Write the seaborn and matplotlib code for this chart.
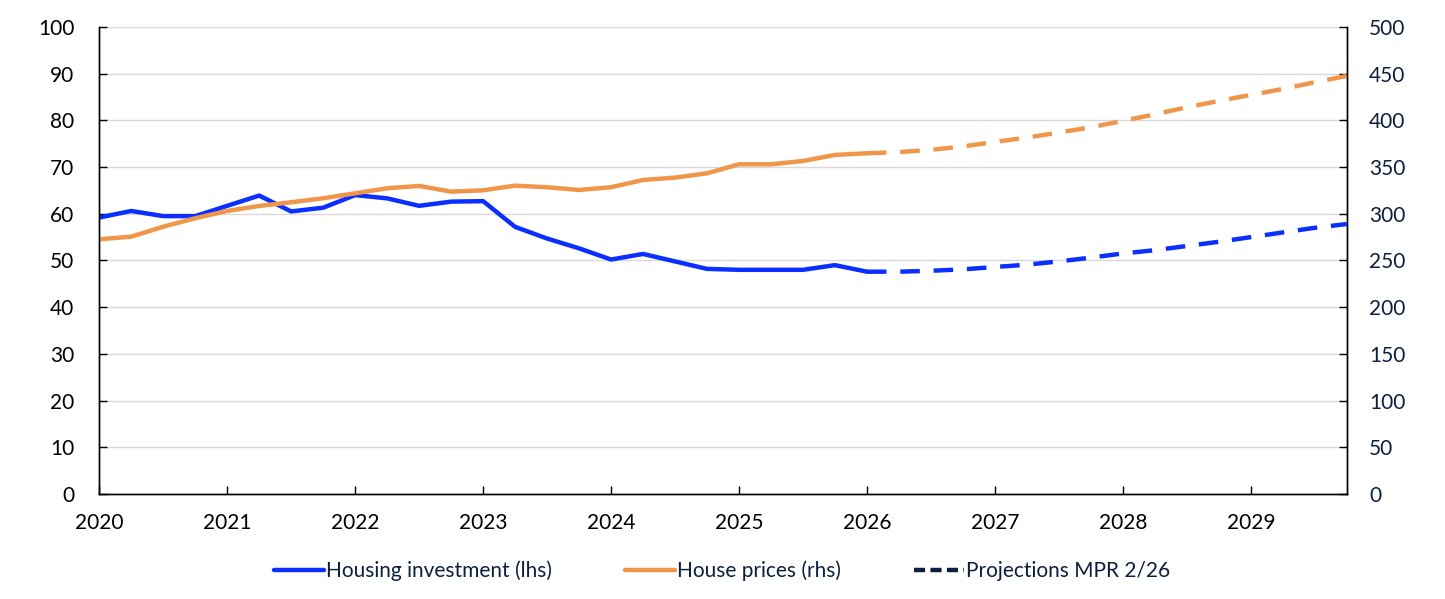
import numpy as np
import pandas as pd
import matplotlib
matplotlib.use("Agg")
import matplotlib.pyplot as plt
from matplotlib.lines import Line2D
import seaborn as sns

# Data (quarterly)
years = [2020, 2021, 2022, 2023, 2024, 2025, 2026, 2027, 2028, 2029]

inv_actual = [59.2, 60.6, 59.5, 59.5, 61.7, 63.9, 60.5, 61.3, 64.0, 63.3,
              61.7, 62.6, 62.7, 57.2, 54.7, 52.6, 50.2, 51.4, 49.8, 48.2,
              48.0, 48.0, 48.0, 49.0, 47.6]
price_actual = [272.7, 275.5, 286.2, 295.2, 303.0, 308.4, 312.3, 316.6, 321.9, 327.3,
                329.8, 323.7, 325.1, 330.1, 328.4, 325.5, 328.4, 336.2, 338.7, 343.3,
                353.0, 353.0, 356.5, 363.0, 364.8]
inv_proj = [47.6, 47.6, 47.8, 48.1, 48.6, 49.1, 49.8, 50.6, 51.5, 52.2,
            53.1, 54.0, 55.0, 56.0, 57.0, 57.8]
price_proj = [364.8, 366.0, 368.5, 372.0, 377.0, 381.5, 387.0, 392.6, 399.4, 406.5,
              414.0, 420.8, 427.2, 433.6, 440.8, 447.5]

labels = ["Housing investment (lhs)", "House prices (rhs)", "Projections MPR 2/26"]

BLUE = "#0a2fff"
ORANGE = "#f0964b"
NAVY = "#0b1f3f"

# quarter index -> decimal year
t_actual = 2020 + np.arange(len(inv_actual)) * 0.25
t_proj = t_actual[-1] + np.arange(len(inv_proj)) * 0.25

df_act = pd.DataFrame({"t": t_actual, "inv": inv_actual, "price": price_actual})
df_proj = pd.DataFrame({"t": t_proj, "inv": inv_proj, "price": price_proj})

sns.set_style("white")
plt.rcParams["font.family"] = ["Lato", "DejaVu Sans"]

fig = plt.figure(figsize=(14.45, 5.99), dpi=100)
ax = fig.add_axes([0.0687, 0.1753, 0.8633, 0.7797])
ax2 = ax.twinx()

lw = 3.2
dash = (4.4, 3.1)
sns.lineplot(data=df_act, x="t", y="inv", ax=ax, color=BLUE, linewidth=lw)
sns.lineplot(data=df_proj, x="t", y="inv", ax=ax, color=BLUE, linewidth=lw).lines[-1].set_dashes(dash)
sns.lineplot(data=df_act, x="t", y="price", ax=ax2, color=ORANGE, linewidth=lw)
sns.lineplot(data=df_proj, x="t", y="price", ax=ax2, color=ORANGE, linewidth=lw).lines[-1].set_dashes(dash)

ax.set_xlim(2020, 2029.75)
ax.set_ylim(0, 100)
ax2.set_ylim(0, 500)
ax.set_yticks(np.arange(0, 101, 10))
ax2.set_yticks(np.arange(0, 501, 50))
ax.set_xticks(years)
ax.set_xticklabels([str(y) for y in years])
ax.set_xlabel("")
ax.set_ylabel("")
ax2.set_ylabel("")

ax.grid(axis="y", color="#d9d9d9", linewidth=1.0)
ax.set_axisbelow(True)
ax2.grid(False)

for a in (ax, ax2):
    a.spines["top"].set_visible(False)
    for s in ("left", "right", "bottom"):
        a.spines[s].set_color("black")
        a.spines[s].set_linewidth(1.0)

ax.tick_params(axis="y", direction="in", length=6, width=1, color="black",
               labelsize=15, labelcolor="black", pad=18, left=True)
ax.tick_params(axis="x", direction="in", length=6, width=1, color="black",
               labelsize=15, labelcolor="black", pad=14, bottom=True)
ax2.tick_params(axis="y", direction="in", length=6, width=1, color="black",
                labelsize=15, labelcolor=NAVY, pad=16, right=True)

handles = [
    Line2D([], [], color=BLUE, linewidth=lw),
    Line2D([], [], color=ORANGE, linewidth=lw),
    Line2D([], [], color=NAVY, linewidth=lw, dashes=(2.5, 1.2)),
]
leg = fig.legend(handles, labels, loc="center", bbox_to_anchor=(0.5, 0.047),
                 ncol=3, frameon=False, fontsize=15, handlelength=2.4,
                 handletextpad=0.1, columnspacing=3.5)
for txt in leg.get_texts():
    txt.set_color(NAVY)

fig.savefig("out.png", dpi=100)
